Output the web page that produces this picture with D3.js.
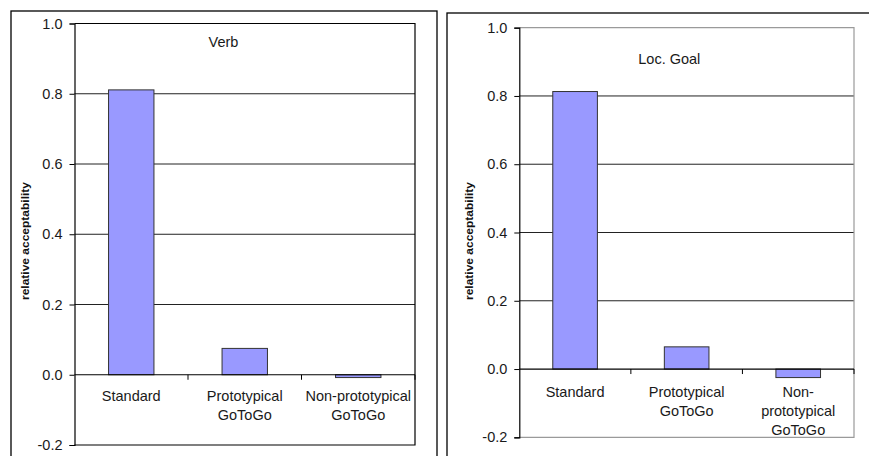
<!DOCTYPE html>
<html><head><meta charset="utf-8">
<script src="https://cdn.jsdelivr.net/npm/d3@7"></script>
<style>html,body{margin:0;padding:0;background:#fff;} svg{display:block;font-family:"Liberation Sans",Arial,sans-serif;}</style>
</head><body>
<svg id="chart" width="869" height="456"></svg>
<script>
const categories = ["Standard", "Prototypical GoToGo", "Non-prototypical GoToGo"];
const verbLabels = [["Standard"], ["Prototypical", "GoToGo"], ["Non-prototypical", "GoToGo"]];
const locGoalLabels = [["Standard"], ["Prototypical", "GoToGo"], ["Non-", "prototypical", "GoToGo"]];
const verbValues = [0.811, 0.075, -0.008];
const locGoalValues = [0.813, 0.065, -0.025];
const yTicks = [-0.2, 0.0, 0.2, 0.4, 0.6, 0.8, 1.0];
const yDomain = [-0.2, 1.0];
const yTitle = "relative acceptability";

const svg = d3.select("#chart");

function panel(o) {
  const g = svg.append("g");
  // outer frame
  g.append("rect").attr("x", o.frame[0]).attr("y", o.frame[1]).attr("width", o.frame[2]).attr("height", o.frame[3])
    .attr("fill", "none").attr("stroke", "#000").attr("stroke-width", 1.3);
  const x = d3.scaleBand().domain(categories).range([o.left, o.right]).padding(0);
  const y = d3.scaleLinear().domain(yDomain).range([o.bottom, o.top]);
  // gridlines
  g.selectAll(".grid").data(yTicks.filter(t => t > 0 && t < 1)).enter().append("line")
    .attr("x1", o.left).attr("x2", o.right).attr("y1", d => y(d)).attr("y2", d => y(d))
    .attr("stroke", "#222").attr("stroke-width", 1);
  // plot border (top, right, bottom)
  g.append("path").attr("d", `M${o.left},${y(1)}H${o.right}V${y(-0.2)}H${o.left}`)
    .attr("fill", "none").attr("stroke", o.borderColor).attr("stroke-width", 1.2);
  // bars
  const bw = x.bandwidth() * 0.4;
  g.selectAll(".bar").data(o.values).enter().append("rect")
    .attr("x", (d, i) => x(categories[i]) + x.bandwidth() / 2 - bw / 2)
    .attr("width", bw)
    .attr("y", d => y(Math.max(0, d)))
    .attr("height", d => Math.abs(y(d) - y(0)))
    .attr("fill", "#9999ff").attr("stroke", "#333").attr("stroke-width", 1);
  // zero axis
  g.append("line").attr("x1", o.left).attr("x2", o.right).attr("y1", y(0)).attr("y2", y(0))
    .attr("stroke", "#000").attr("stroke-width", 1.2);
  const bounds = categories.map(c => x(c)).concat([x.range()[1]]).slice(1);
  g.selectAll(".xt").data(bounds).enter().append("line")
    .attr("x1", d => d).attr("x2", d => d).attr("y1", y(0)).attr("y2", y(0) + 5)
    .attr("stroke", "#000").attr("stroke-width", 1);
  // category labels
  o.labels.forEach((lines, i) => {
    const t = g.append("text").attr("text-anchor", "middle").attr("font-size", "14.5px").attr("fill", "#1a1a1a");
    lines.forEach((ln, j) => {
      t.append("tspan").attr("x", x(categories[i]) + x.bandwidth() / 2)
        .attr("y", y(0) + o.labelOffset + j * o.lineHeight).text(ln);
    });
  });
  // y axis
  const ax = g.append("g").attr("transform", `translate(${o.left},0)`)
    .call(d3.axisLeft(y).tickValues(yTicks).tickSize(5).tickPadding(7).tickFormat(d => d.toFixed(1)));
  ax.select(".domain").attr("stroke", "#000").attr("stroke-width", 1.2);
  ax.selectAll("text").attr("font-size", "14.5px").attr("fill", "#1a1a1a").attr("font-family", "Liberation Sans, Arial, sans-serif");
  // title
  g.append("text").attr("x", o.titleX).attr("y", o.titleY).attr("text-anchor", "middle")
    .attr("font-size", "14.5px").attr("fill", "#1a1a1a").text(o.title);
  // y label
  g.append("text").attr("transform", `translate(${o.ylabX},${o.ylabY}) rotate(-90)`)
    .attr("text-anchor", "middle").attr("dominant-baseline", "central")
    .attr("font-size", "11.5px").attr("font-weight", "bold").attr("fill", "#111")
    .attr("textLength", 118).attr("lengthAdjust", "spacingAndGlyphs").text(yTitle);
}

panel({frame: [11, 11, 426, 460], left: 74.5, right: 415, top: 23.5, bottom: 445, borderColor: "#000",
  values: verbValues, labels: verbLabels, labelOffset: 26.5, lineHeight: 18.5,
  title: "Verb", titleX: 223.5, titleY: 47, ylabX: 24.5, ylabY: 241});
panel({frame: [447, 13, 440, 460], left: 519.3, right: 854, top: 27.7, bottom: 437.3, borderColor: "#9a9a9a",
  values: locGoalValues, labels: locGoalLabels, labelOffset: 28, lineHeight: 19,
  title: "Loc. Goal", titleX: 669.3, titleY: 64, ylabX: 468.5, ylabY: 241});
</script>
</body></html>
